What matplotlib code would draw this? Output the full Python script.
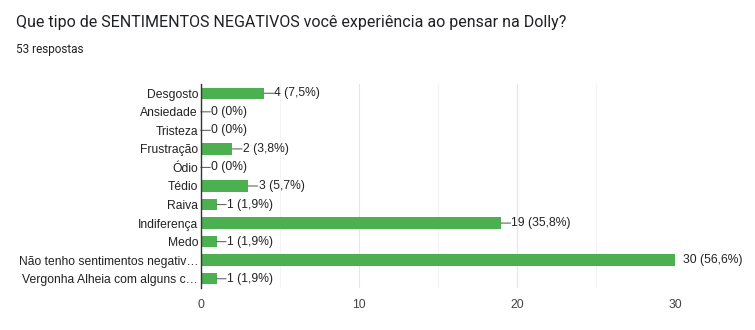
import matplotlib.pyplot as plt
import numpy as np

categories = ["Desgosto", "Ansiedade", "Tristeza", "Frustração", "Ódio", "Tédio",
              "Raiva", "Indiferença", "Medo", "Não tenho sentimentos negativ…",
              "Vergonha Alheia com alguns c…"]
counts = [4, 0, 0, 2, 0, 3, 1, 19, 1, 30, 1]
percents = ["7,5%", "0%", "0%", "3,8%", "0%", "5,7%", "1,9%", "35,8%", "1,9%", "56,6%", "1,9%"]

green = "#4caf50"
text_col = "#222222"

fig = plt.figure(figsize=(7.55, 3.3), dpi=100)
ax = fig.add_axes([0.266, 1 - 288 / 330, 0.628, 204 / 330])

y = np.arange(len(categories))
ax.barh(y, counts, height=0.62, color=green, zorder=3)
ax.set_ylim(len(categories) - 0.5, -0.5)
ax.set_xlim(0, 30)

# value labels with leader lines
for yi, c, p in zip(y, counts, percents):
    label = f"{c} ({p})"
    if c == max(counts):
        ax.annotate(label, (c, yi), xytext=(6, 0), textcoords="offset points",
                    va="center", ha="left", fontsize=8.7, color=text_col,
                    family="Liberation Sans", annotation_clip=False)
    else:
        ax.annotate("", (c, yi), xytext=(c + 0.6, yi),
                    arrowprops=dict(arrowstyle="-", color="#666666", lw=0.8,
                                    shrinkA=0, shrinkB=0))
        ax.text(c + 0.65, yi, label, va="center", ha="left", fontsize=8.7,
                color=text_col, family="Liberation Sans")

ax.set_yticks(y)
ax.set_yticklabels(categories, fontsize=8.7, color=text_col, family="Liberation Sans")
ax.set_xticks([0, 10, 20, 30])
ax.set_xticklabels(["0", "10", "20", "30"], fontsize=8.7, color="#444444",
                   family="Liberation Sans")
ax.set_xticks([5, 15, 25], minor=True)
ax.tick_params(axis="both", which="both", length=0, pad=2)
ax.tick_params(axis="x", pad=8)
ax.grid(axis="x", which="major", color="#e6e6e6", lw=0.8, zorder=0)
ax.grid(axis="x", which="minor", color="#f3f3f3", lw=0.8, zorder=0)
for s in ["top", "right", "bottom"]:
    ax.spines[s].set_visible(False)
ax.spines["left"].set_color("#333333")
ax.spines["left"].set_linewidth(1)
ax.spines["left"].set_zorder(4)

fig.text(16 / 755, 1 - 22 / 330, "Que tipo de SENTIMENTOS NEGATIVOS você experiência ao pensar na Dolly?",
         fontsize=11.5, color="#202124", family="Roboto", va="center", ha="left")
fig.text(16 / 755, 1 - 49 / 330, "53 respostas", fontsize=8.5, color="#202124",
         family="Roboto", va="center", ha="left")

fig.savefig("out.png", dpi=100)
